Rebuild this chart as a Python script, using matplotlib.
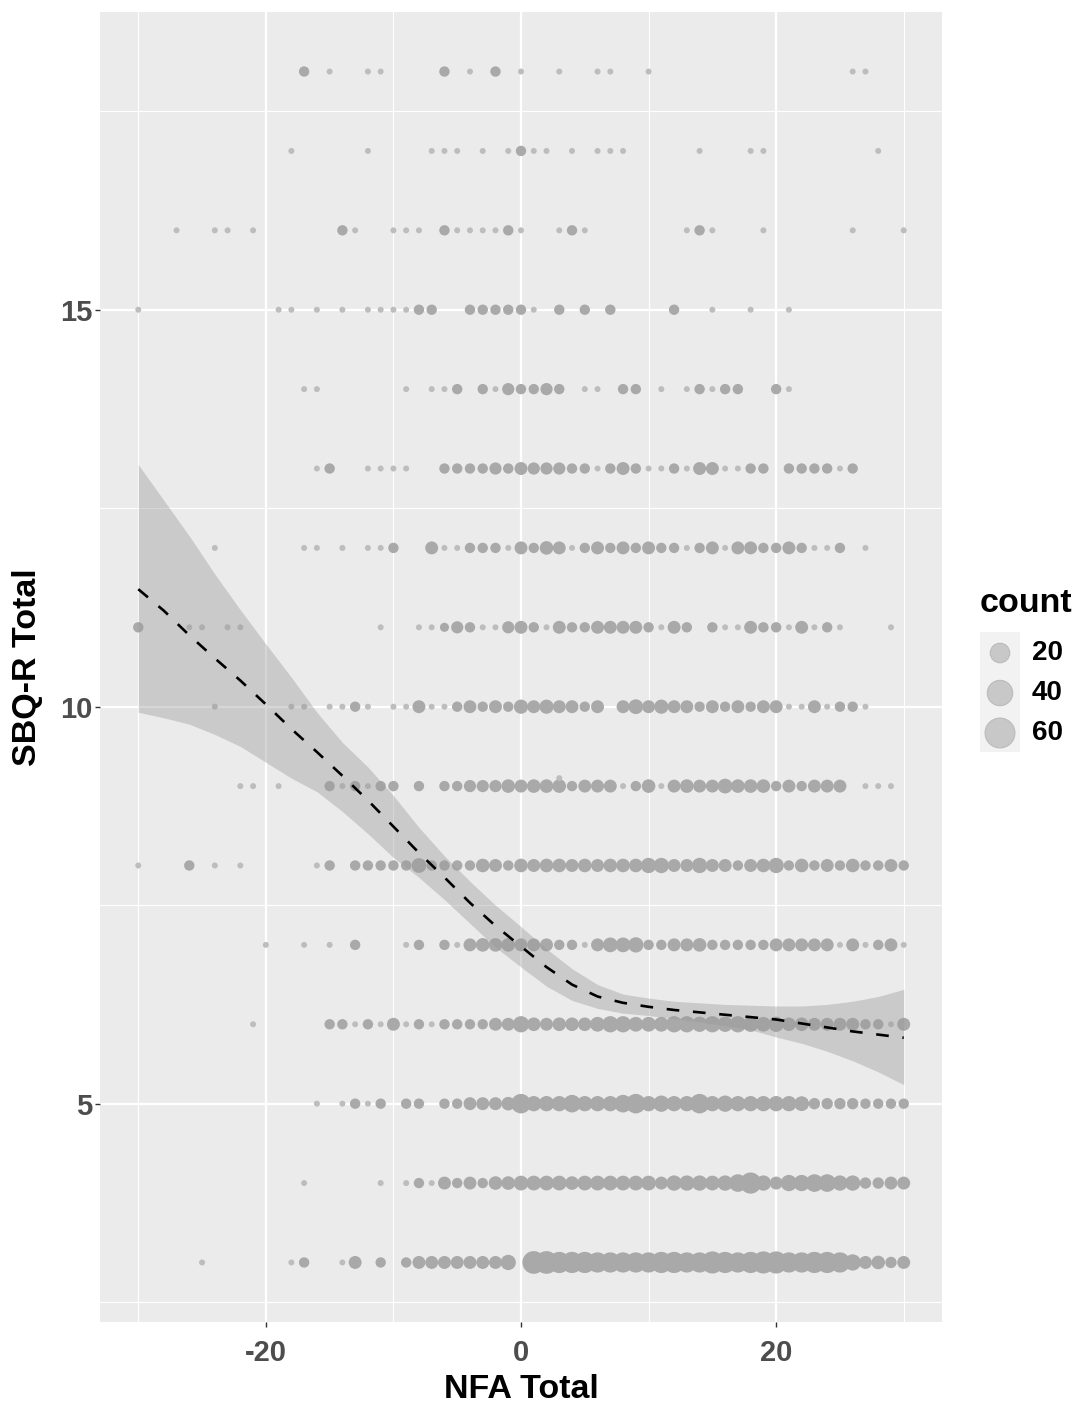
"""Count plot of SBQ-R Total vs NFA Total with a loess-style smooth."""

import numpy as np
import matplotlib

matplotlib.use("Agg")
import matplotlib.pyplot as plt

plt.rcParams["font.family"] = ["Liberation Sans", "DejaVu Sans"]

# counts of observations at each NFA Total value, one dict per SBQ-R Total row
y18_counts = {-17: 3, -15: 1, -12: 1, -11: 1, -6: 3, -4: 1, -2: 3, 0: 1, 3: 1, 6: 1,
              7: 1, 10: 1, 26: 1, 27: 1}
y17_counts = {-18: 1, -12: 1, -7: 1, -6: 1, -5: 1, -3: 1, -1: 1, 0: 3, 1: 1, 2: 1,
              4: 1, 6: 1, 7: 1, 8: 1, 14: 1, 18: 1, 19: 1, 28: 1}
y16_counts = {-27: 1, -24: 1, -23: 1, -21: 1, -14: 3, -13: 1, -10: 1, -9: 1, -8: 1,
              -6: 3, -5: 1, -4: 1, -3: 1, -2: 1, -1: 3, 0: 1, 3: 1, 4: 3, 5: 1,
              13: 1, 14: 3, 15: 1, 19: 1, 26: 1, 30: 1}
y15_counts = {-30: 1, -19: 1, -18: 1, -16: 1, -14: 1, -12: 1, -11: 1, -10: 1, -9: 1,
              -8: 3, -7: 3, -4: 3, -3: 3, -2: 3, -1: 3, 0: 3, 1: 1, 3: 3, 5: 3,
              7: 3, 12: 3, 15: 1, 18: 1, 21: 1}
y14_counts = {-17: 1, -16: 1, -9: 1, -7: 1, -6: 1, -5: 3, -3: 3, -2: 1, -1: 5, 0: 3,
              1: 3, 2: 5, 3: 3, 5: 1, 6: 1, 8: 3, 9: 3, 11: 1, 13: 1, 14: 3, 15: 1,
              16: 3, 17: 3, 20: 3, 21: 1}
y13_counts = {-16: 1, -15: 3, -12: 1, -11: 1, -10: 1, -9: 1, -6: 3, -5: 3, -4: 3,
              -3: 3, -2: 5, -1: 3, 0: 6, 1: 5, 2: 5, 3: 5, 4: 3, 5: 3, 6: 1, 7: 3,
              8: 6, 9: 3, 10: 1, 11: 1, 12: 3, 13: 1, 14: 6, 15: 6, 16: 1, 17: 1,
              18: 3, 19: 3, 21: 3, 22: 3, 23: 3, 24: 3, 25: 1, 26: 3}
y12_counts = {-24: 1, -17: 1, -16: 1, -14: 1, -12: 1, -11: 1, -10: 3, -7: 6, -6: 1,
              -5: 1, -4: 3, -3: 3, -2: 3, -1: 1, 0: 6, 1: 3, 2: 7, 3: 6, 4: 1, 5: 3,
              6: 6, 7: 3, 8: 6, 9: 3, 10: 6, 11: 3, 12: 3, 13: 1, 14: 3, 15: 6,
              16: 1, 17: 6, 18: 6, 19: 3, 20: 3, 21: 6, 22: 3, 23: 1, 24: 1, 25: 3,
              27: 1}
y11_counts = {-30: 3, -26: 1, -25: 1, -23: 1, -22: 1, -11: 1, -8: 1, -7: 1, -6: 2,
              -5: 5, -4: 3, -3: 1, -2: 1, -1: 5, 0: 6, 1: 3, 2: 1, 3: 6, 4: 3, 5: 3,
              6: 6, 7: 6, 8: 6, 9: 6, 10: 3, 11: 1, 12: 6, 13: 3, 15: 3, 16: 1,
              17: 1, 18: 6, 19: 3, 20: 3, 21: 1, 22: 6, 23: 1, 24: 3, 25: 1, 29: 1}
y10_counts = {-24: 1, -18: 1, -17: 1, -15: 1, -14: 1, -13: 3, -12: 1, -10: 1, -9: 1,
              -8: 6, -7: 1, -6: 1, -5: 3, -4: 6, -3: 3, -2: 6, -1: 3, 0: 8, 1: 6,
              2: 8, 3: 6, 4: 6, 5: 3, 6: 6, 8: 6, 9: 9, 10: 6, 11: 8, 12: 6, 13: 6,
              14: 3, 15: 6, 16: 3, 17: 6, 18: 3, 19: 6, 20: 6, 21: 1, 22: 1, 23: 6,
              24: 1, 25: 3, 26: 3, 27: 1}
y9_counts = {-22: 1, -21: 1, -19: 1, -15: 3, -14: 1, -13: 3, -12: 1, -11: 3, -10: 3,
             -8: 3, -6: 3, -5: 3, -4: 5, -3: 5, -2: 5, -1: 7, 0: 6, 1: 7, 2: 7, 3: 7,
             4: 3, 5: 6, 6: 6, 7: 6, 8: 1, 9: 3, 10: 7, 11: 1, 12: 6, 13: 7, 14: 6,
             15: 6, 16: 9, 17: 7, 18: 7, 19: 7, 20: 3, 21: 6, 22: 3, 23: 6, 24: 6,
             25: 6, 27: 1, 28: 1, 29: 1}
y8_counts = {-30: 1, -26: 3, -24: 1, -22: 1, -16: 1, -15: 3, -13: 3, -12: 3, -11: 3,
             -10: 3, -9: 3, -8: 9, -7: 3, -6: 3, -5: 3, -4: 3, -3: 7, -2: 6, -1: 3,
             0: 7, 1: 6, 2: 7, 3: 7, 4: 6, 5: 7, 6: 6, 7: 7, 8: 7, 9: 7, 10: 10,
             11: 10, 12: 6, 13: 6, 14: 10, 15: 6, 16: 6, 17: 3, 18: 6, 19: 7, 20: 10,
             21: 3, 22: 7, 23: 3, 24: 6, 25: 3, 26: 7, 27: 3, 28: 3, 29: 6, 30: 3}
y7_counts = {-20: 1, -17: 1, -15: 1, -13: 3, -9: 1, -8: 3, -6: 3, -5: 1, -4: 6, -3: 7,
             -2: 7, -1: 7, 0: 6, 1: 6, 2: 6, 3: 3, 4: 3, 5: 1, 6: 6, 7: 9, 8: 9,
             9: 10, 10: 3, 11: 3, 12: 6, 13: 6, 14: 7, 15: 3, 16: 3, 17: 3, 18: 3,
             19: 3, 20: 6, 21: 6, 22: 6, 23: 6, 24: 6, 25: 1, 26: 6, 27: 1, 28: 3,
             29: 6, 30: 1}
y6_counts = {-21: 1, -15: 3, -14: 3, -13: 1, -12: 3, -11: 1, -10: 6, -9: 1, -8: 3,
             -7: 1, -6: 3, -5: 3, -4: 3, -3: 3, -2: 6, -1: 6, 0: 12, 1: 7, 2: 6,
             3: 7, 4: 7, 5: 7, 6: 9, 7: 12, 8: 12, 9: 9, 10: 9, 11: 9, 12: 12,
             13: 12, 14: 10, 15: 12, 16: 10, 17: 12, 18: 10, 19: 9, 20: 10, 21: 7,
             22: 7, 23: 6, 24: 6, 25: 6, 26: 6, 27: 3, 28: 3, 29: 1, 30: 6}
y5_counts = {-16: 1, -14: 1, -13: 3, -12: 1, -11: 3, -9: 3, -8: 3, -6: 3, -5: 3,
             -4: 6, -3: 6, -2: 6, -1: 7, 0: 20, 1: 10, 2: 10, 3: 10, 4: 15, 5: 10,
             6: 10, 7: 10, 8: 15, 9: 20, 10: 10, 11: 12, 12: 10, 13: 10, 14: 20,
             15: 10, 16: 12, 17: 10, 18: 10, 19: 10, 20: 10, 21: 10, 22: 9, 23: 4,
             24: 4, 25: 4, 26: 4, 27: 3, 28: 3, 29: 3, 30: 3}
y4_counts = {-17: 1, -11: 1, -9: 1, -8: 3, -7: 1, -6: 6, -5: 3, -4: 6, -3: 3, -2: 7,
             -1: 7, 0: 9, 1: 9, 2: 9, 3: 9, 4: 7, 5: 9, 6: 9, 7: 9, 8: 9, 9: 9,
             10: 9, 11: 6, 12: 10, 13: 10, 14: 10, 15: 9, 16: 10, 17: 15, 18: 25,
             19: 10, 20: 6, 21: 12, 22: 12, 23: 15, 24: 15, 25: 10, 26: 10, 27: 4,
             28: 4, 29: 6, 30: 6}
y3_counts = {-25: 1, -18: 1, -17: 3, -14: 1, -13: 6, -11: 3, -9: 3, -8: 6, -7: 6,
             -6: 6, -5: 6, -4: 6, -3: 6, -2: 6, -1: 10, 1: 30, 2: 30, 3: 25, 4: 25,
             5: 25, 6: 22, 7: 22, 8: 22, 9: 22, 10: 22, 11: 25, 12: 25, 13: 22,
             14: 22, 15: 28, 16: 25, 17: 22, 18: 25, 19: 28, 20: 28, 21: 22, 22: 22,
             23: 25, 24: 25, 25: 22, 26: 12, 27: 6, 28: 7, 29: 4, 30: 6}
# one stray observation that sits just above the 9 row
extra_x = [3]
extra_y = [9.1]
extra_n = [1]

row_levels = [18, 17, 16, 15, 14, 13, 12, 11, 10, 9, 8, 7, 6, 5, 4, 3]
row_counts = [y18_counts, y17_counts, y16_counts, y15_counts, y14_counts,
              y13_counts, y12_counts, y11_counts, y10_counts, y9_counts,
              y8_counts, y7_counts, y6_counts, y5_counts, y4_counts, y3_counts]

# smooth fit and its confidence band
smooth_x = [-30, -28, -26, -24, -22, -20, -18, -16, -14, -12, -10, -8, -6, -4, -2,
            0, 2, 4, 6, 8, 10, 12, 14, 16, 18, 20, 22, 24, 26, 28, 30]
smooth_fit = [11.48, 11.21, 10.90, 10.61, 10.33, 10.03, 9.72, 9.43, 9.13, 8.82,
              8.49, 8.16, 7.85, 7.53, 7.24, 6.98, 6.72, 6.50, 6.35, 6.27, 6.22,
              6.18, 6.15, 6.12, 6.09, 6.06, 6.01, 5.96, 5.91, 5.87, 5.83]
smooth_upper = [13.05, 12.60, 12.15, 11.67, 11.22, 10.79, 10.37, 9.93, 9.55, 9.24,
                8.88, 8.48, 8.12, 7.80, 7.50, 7.23, 6.95, 6.70, 6.50, 6.38, 6.33,
                6.29, 6.27, 6.25, 6.24, 6.23, 6.23, 6.25, 6.29, 6.35, 6.44]
smooth_lower = [9.93, 9.86, 9.78, 9.65, 9.50, 9.30, 9.10, 8.93, 8.68, 8.40, 8.10,
                7.85, 7.57, 7.27, 6.97, 6.72, 6.48, 6.30, 6.20, 6.14, 6.11, 6.07,
                6.03, 5.98, 5.93, 5.84, 5.76, 5.66, 5.54, 5.40, 5.24]

legend_breaks = [20, 40, 60]
x_ticks = [-20, 0, 20]
x_tick_labels = ["-20", "0", "20"]
y_ticks = [5, 10, 15]

DPI = 100
W, H = 1079, 1406


def marker_area(count):
    """Scatter area (pt^2) so the dot diameter grows with sqrt(count)."""
    dia_px = 6.0 + 3.1 * np.sqrt(np.asarray(count, dtype=float) - 1.0)
    return (dia_px * 72.0 / DPI) ** 2


xs, ys, ns = [], [], []
for level, counts in zip(row_levels, row_counts):
    for x_val, n in counts.items():
        xs.append(x_val)
        ys.append(level)
        ns.append(n)
xs += extra_x
ys += extra_y
ns += extra_n
xs = np.array(xs)
ys = np.array(ys, dtype=float)
ns = np.array(ns)
colors = np.where(ns <= 1, "#BDBDBD", "#A9A9A9")

fig = plt.figure(figsize=(W / DPI, H / DPI), dpi=DPI)
fig.patch.set_facecolor("white")
ax = fig.add_axes([100 / W, 1 - 1322 / H, 842 / W, 1310 / H])
ax.set_facecolor("#EBEBEB")

ax.set_xlim(-33, 33)
ax.set_ylim(2.25, 18.75)
ax.set_xticks(x_ticks)
ax.set_xticklabels(x_tick_labels)
ax.set_yticks(y_ticks)
ax.set_xticks([-30, -10, 10, 30], minor=True)
ax.set_yticks([2.5, 7.5, 12.5, 17.5], minor=True)
ax.grid(which="major", color="white", linewidth=1.6)
ax.grid(which="minor", color="white", linewidth=0.8)
ax.set_axisbelow(True)

ax.scatter(xs, ys, s=marker_area(ns), c=colors, linewidths=0, zorder=3)

ax.fill_between(smooth_x, smooth_lower, smooth_upper, color="#999999",
                alpha=0.4, linewidth=0, zorder=4)
ax.plot(smooth_x, smooth_fit, color="black", linewidth=1.9,
        dashes=(4.8, 5.2), zorder=5)

for spine in ax.spines.values():
    spine.set_visible(False)
ax.tick_params(axis="both", which="major", length=3.5, width=1.0, color="#333333",
               labelsize=21, labelcolor="#4D4D4D")
ax.tick_params(axis="x", which="major", pad=9)
ax.tick_params(axis="y", which="major", pad=2)
ax.tick_params(axis="both", which="minor", length=0)
for lab in ax.get_xticklabels() + ax.get_yticklabels():
    lab.set_fontweight("bold")

ax.set_xlabel("NFA Total", fontsize=24.5, fontweight="bold", color="black")
ax.set_ylabel("SBQ-R Total", fontsize=24.5, fontweight="bold", color="black")
ax.xaxis.label.set_va("center")
ax.yaxis.label.set_va("center")
ax.xaxis.set_label_coords(0.5, (1322 - 1390) / 1310)
ax.yaxis.set_label_coords((28 - 100) / 842, 0.5)

# size legend
lax = fig.add_axes([980 / W, 1 - 752 / H, 40 / W, 120 / H])
lax.set_xlim(0, 40)
lax.set_ylim(0, 120)
lax.set_facecolor("#F2F2F2")
lax.set_xticks([])
lax.set_yticks([])
for spine in lax.spines.values():
    spine.set_visible(False)
key_y = [99, 59, 19]
lax.scatter([20] * len(legend_breaks), key_y, s=marker_area(legend_breaks),
            c="#C8C8C8", edgecolors="#BBBBBB", linewidths=0.8, clip_on=False)
for yk, br in zip(key_y, legend_breaks):
    fig.text(1032 / W, 1 - (752 - yk) / H, str(br), fontsize=20,
             fontweight="bold", va="center", ha="left")
fig.text(980 / W, 1 - 604 / H, "count", fontsize=24.5, fontweight="bold",
         va="center", ha="left")

fig.savefig("out.png", dpi=DPI)
